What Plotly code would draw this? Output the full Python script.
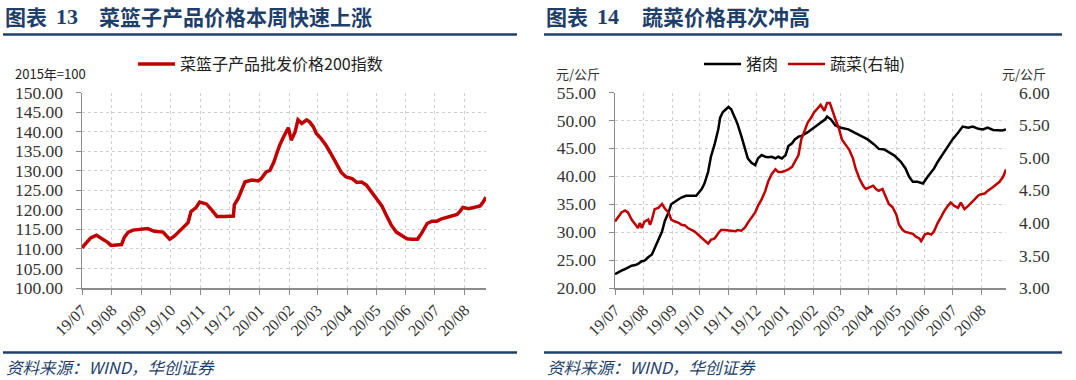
import plotly.graph_objects as go

# ---------------- data ----------------
basket_dates = [
    "2019-07-01", "2019-07-07", "2019-07-10", "2019-07-16", "2019-07-21", "2019-07-28", "2019-07-31",
    "2019-08-07", "2019-08-11", "2019-08-14", "2019-08-18", "2019-08-23", "2019-08-31",
    "2019-09-07", "2019-09-14", "2019-09-23", "2019-09-26", "2019-09-30",
    "2019-10-05", "2019-10-12", "2019-10-19", "2019-10-22", "2019-10-27", "2019-10-31",
    "2019-11-07", "2019-11-12", "2019-11-18", "2019-11-26",
    "2019-12-05", "2019-12-06", "2019-12-10", "2019-12-13", "2019-12-17", "2019-12-24", "2019-12-31",
    "2020-01-03", "2020-01-08", "2020-01-12", "2020-01-16", "2020-01-19", "2020-01-22", "2020-01-27", "2020-01-31",
    "2020-02-03", "2020-02-07", "2020-02-10", "2020-02-14", "2020-02-19", "2020-02-22", "2020-02-26", "2020-02-29",
    "2020-03-05", "2020-03-10", "2020-03-16", "2020-03-21", "2020-03-26", "2020-03-31",
    "2020-04-06", "2020-04-11", "2020-04-16", "2020-04-21", "2020-04-26",
    "2020-05-02", "2020-05-07", "2020-05-12", "2020-05-17", "2020-05-22", "2020-05-28",
    "2020-06-02", "2020-06-07", "2020-06-13", "2020-06-17", "2020-06-23", "2020-06-28",
    "2020-07-03", "2020-07-08", "2020-07-13", "2020-07-18", "2020-07-24", "2020-07-27", "2020-07-30",
    "2020-08-05", "2020-08-10", "2020-08-17", "2020-08-20", "2020-08-23",
]
basket_vals = [
    110.3, 111.8, 112.8, 113.5, 112.8, 111.6, 110.9,
    111.1, 111.1, 113.0, 114.3, 114.8, 115.0,
    115.2, 114.5, 114.3, 113.5, 112.5,
    113.3, 115.0, 116.7, 119.5, 120.5, 122.0,
    121.5, 120.1, 118.3, 118.3,
    118.4, 121.3, 122.9, 124.7, 127.1, 127.6, 127.4,
    128.0, 129.7, 130.1, 132.2, 134.4, 136.5, 139.1, 141.0,
    137.8, 139.9, 143.0, 142.1, 143.0, 142.5, 141.2, 139.5,
    138.2, 136.5, 134.0, 131.6, 129.5, 128.4,
    128.0, 127.0, 127.1, 126.3, 124.7,
    122.9, 121.0, 118.4, 116.0, 114.3, 113.3,
    112.6, 112.5, 112.5, 113.9, 116.5, 117.1,
    117.1, 117.7, 118.1, 118.4, 118.8, 119.6, 120.6,
    120.3, 120.5, 121.0, 122.0, 123.2,
]

pork_dates = [
    "2019-07-01", "2019-07-05", "2019-07-08", "2019-07-12", "2019-07-15", "2019-07-19", "2019-07-23", "2019-07-26", "2019-07-30",
    "2019-08-02", "2019-08-06", "2019-08-10", "2019-08-13", "2019-08-17", "2019-08-21", "2019-08-24", "2019-08-28", "2019-08-31",
    "2019-09-04", "2019-09-08", "2019-09-11", "2019-09-16", "2019-09-22", "2019-09-27",
    "2019-10-03", "2019-10-06", "2019-10-10", "2019-10-13", "2019-10-17", "2019-10-21", "2019-10-23", "2019-10-26",
    "2019-11-01", "2019-11-04", "2019-11-08", "2019-11-11", "2019-11-15", "2019-11-19", "2019-11-22", "2019-11-26", "2019-11-30",
    "2019-12-03", "2019-12-07", "2019-12-11", "2019-12-14", "2019-12-18", "2019-12-22", "2019-12-25", "2019-12-29",
    "2020-01-02", "2020-01-05", "2020-01-09", "2020-01-12", "2020-01-16", "2020-01-19", "2020-01-26",
    "2020-02-02", "2020-02-09", "2020-02-14", "2020-02-16", "2020-02-20", "2020-02-25",
    "2020-03-02", "2020-03-10", "2020-03-17", "2020-03-24", "2020-03-31",
    "2020-04-07", "2020-04-12", "2020-04-18", "2020-04-23", "2020-04-29",
    "2020-05-06", "2020-05-11", "2020-05-15", "2020-05-19", "2020-05-24", "2020-05-30",
    "2020-06-04", "2020-06-08", "2020-06-11", "2020-06-15", "2020-06-21", "2020-06-26",
    "2020-07-01", "2020-07-07", "2020-07-12", "2020-07-18", "2020-07-23", "2020-07-29",
    "2020-08-03", "2020-08-08", "2020-08-14", "2020-08-24", "2020-08-28",
]
pork_vals = [
    22.5, 22.9, 23.1, 23.4, 23.7, 24.0, 24.1, 24.3, 24.8,
    24.9, 25.5, 26.0, 27.1, 28.6, 30.1, 32.0, 33.5, 35.0,
    35.5, 35.9, 36.2, 36.5, 36.5, 36.5,
    37.7, 38.7, 40.8, 43.5, 45.7, 48.4, 50.5, 51.5,
    52.4, 52.0, 50.5, 49.3, 47.2, 44.8, 43.2, 42.4, 42.0,
    43.2, 43.8, 43.5, 43.4, 43.5, 43.2, 43.5, 43.2,
    43.8, 45.4, 45.9, 46.6, 47.1, 47.2, 47.9,
    48.7, 49.5, 50.2, 50.7, 50.2, 49.1,
    48.7, 48.4, 47.8, 47.3, 46.6,
    45.7, 44.9, 44.8, 44.3, 43.7,
    42.6, 41.4, 39.9, 39.0, 39.0, 38.7,
    39.9, 40.8, 41.4, 42.6, 44.1, 45.4,
    46.6, 47.8, 48.9, 48.7, 48.9, 48.5,
    48.4, 48.7, 48.3, 48.2, 48.4,
]

veg_dates = [
    "2019-07-01", "2019-07-05", "2019-07-08", "2019-07-12", "2019-07-15", "2019-07-19", "2019-07-23", "2019-07-26",
    "2019-07-28", "2019-07-30", "2019-08-02", "2019-08-06", "2019-08-08", "2019-08-10", "2019-08-13", "2019-08-17",
    "2019-08-21", "2019-08-24", "2019-08-28", "2019-08-31", "2019-09-04", "2019-09-08", "2019-09-11", "2019-09-15",
    "2019-09-18", "2019-09-22", "2019-09-25", "2019-09-29", "2019-10-03", "2019-10-06", "2019-10-10", "2019-10-13",
    "2019-10-17", "2019-10-21", "2019-10-24", "2019-10-28", "2019-11-01", "2019-11-04", "2019-11-08", "2019-11-11",
    "2019-11-15", "2019-11-19", "2019-11-22", "2019-11-26", "2019-11-30", "2019-12-03", "2019-12-07", "2019-12-11",
    "2019-12-14", "2019-12-18", "2019-12-22", "2019-12-25", "2019-12-29", "2020-01-02", "2020-01-05", "2020-01-09",
    "2020-01-12", "2020-01-16", "2020-01-19", "2020-01-23", "2020-01-26", "2020-01-30",
    "2020-02-02", "2020-02-06", "2020-02-09", "2020-02-13", "2020-02-16", "2020-02-19", "2020-02-21", "2020-02-25", "2020-02-29",
    "2020-03-03", "2020-03-07", "2020-03-11", "2020-03-15", "2020-03-18", "2020-03-22", "2020-03-26", "2020-03-29",
    "2020-04-02", "2020-04-06", "2020-04-09", "2020-04-12", "2020-04-16", "2020-04-20", "2020-04-23", "2020-04-27",
    "2020-05-01", "2020-05-04", "2020-05-08", "2020-05-11", "2020-05-15", "2020-05-19", "2020-05-22", "2020-05-26", "2020-05-28",
    "2020-06-01", "2020-06-04", "2020-06-08", "2020-06-11", "2020-06-15", "2020-06-19", "2020-06-22", "2020-06-26", "2020-06-29",
    "2020-07-03", "2020-07-07", "2020-07-10", "2020-07-14", "2020-07-18", "2020-07-21", "2020-07-25", "2020-07-29",
    "2020-08-01", "2020-08-05", "2020-08-08", "2020-08-14", "2020-08-21", "2020-08-25", "2020-08-28",
]
veg_vals = [
    4.02, 4.10, 4.16, 4.19, 4.16, 4.05, 3.97, 3.92,
    4.00, 3.92, 4.02, 4.05, 3.97, 4.05, 4.21, 4.23,
    4.29, 4.22, 4.16, 4.05, 4.02, 4.00, 3.97, 3.96,
    3.92, 3.89, 3.87, 3.82, 3.77, 3.74, 3.68, 3.74,
    3.76, 3.84, 3.89, 3.89, 3.89, 3.88, 3.87, 3.89,
    3.88, 3.93, 4.00, 4.08, 4.16, 4.26, 4.36, 4.49,
    4.63, 4.75, 4.82, 4.78, 4.78, 4.80, 4.82, 4.86,
    4.94, 5.04, 5.28, 5.44, 5.54, 5.62,
    5.70, 5.76, 5.81, 5.72, 5.84, 5.84, 5.75, 5.59, 5.44,
    5.28, 5.20, 5.12, 4.99, 4.83, 4.68, 4.57, 4.52,
    4.55, 4.57, 4.52, 4.49, 4.52, 4.39, 4.29, 4.24,
    4.13, 3.97, 3.89, 3.86, 3.84, 3.83, 3.79, 3.76, 3.72,
    3.82, 3.84, 3.82, 3.87, 4.00, 4.10, 4.18, 4.26, 4.31,
    4.26, 4.23, 4.31, 4.21, 4.26, 4.31, 4.36, 4.42,
    4.44, 4.45, 4.49, 4.55, 4.63, 4.71, 4.82,
]

left_ticks_range = [100, 150]
pork_range = [20, 55]
veg_range = [3, 6]

# ---------------- figure ----------------
W, H = 1076, 380
NAVY = "#1F3F6B"
RED = "#C00000"
AXC = "#8C8C8C"
GRID = "#D0D0D0"

def px(x):
    return x / W

def py(y):
    return 1 - y / H

fig = go.Figure()
fig.add_trace(go.Scatter(x=basket_dates, y=basket_vals, mode="lines",
                         line=dict(color=RED, width=3.5),
                         name="菜篮子产品批发价格200指数", xaxis="x", yaxis="y", legend="legend"))
fig.add_trace(go.Scatter(x=pork_dates, y=pork_vals, mode="lines",
                         line=dict(color="#000000", width=2.5),
                         name="猪肉", xaxis="x2", yaxis="y2", legend="legend2"))
fig.add_trace(go.Scatter(x=veg_dates, y=veg_vals, mode="lines",
                         line=dict(color=RED, width=2.5),
                         name="蔬菜(右轴)", xaxis="x2", yaxis="y3", legend="legend2"))

tickfont = dict(family="Liberation Serif", size=17.5, color="#333333")
xtickfont = dict(family="Liberation Serif", size=16, color="#333333")
ydom = [py(288), py(92.5)]

xcommon = dict(type="date", dtick="M1", tickformat="%y/%m", tickangle=-45,
               showgrid=True, gridcolor=GRID, griddash="dot", gridwidth=1,
               showline=True, linecolor=AXC, linewidth=1.5,
               ticks="outside", ticklen=5, tickcolor=AXC, tickfont=xtickfont,
               zeroline=False, automargin=False)
ycommon = dict(showgrid=True, gridcolor=GRID, griddash="dot", gridwidth=1,
               showline=True, linecolor=AXC, linewidth=1.5,
               ticks="outside", ticklen=5, tickcolor=AXC, tickfont=tickfont,
               tickformat=".2f", zeroline=False, ticklabelstandoff=9, automargin=False)

legfont = dict(family="Noto Sans CJK SC", size=16, color="#222222")

fig.update_layout(
    width=W, height=H, margin=dict(l=0, r=0, t=0, b=0, autoexpand=False),
    paper_bgcolor="white", plot_bgcolor="white",
    xaxis=dict(domain=[px(82), px(486)], range=["2019-07-01", "2020-08-23"],
               tick0="2019-07-01", anchor="y", **xcommon),
    yaxis=dict(domain=ydom, range=left_ticks_range, dtick=5, anchor="x", **ycommon),
    xaxis2=dict(domain=[px(615), px(1006)], range=["2019-07-01", "2020-08-28"],
                tick0="2019-07-01", anchor="y2", **xcommon),
    yaxis2=dict(domain=ydom, range=pork_range, dtick=5, anchor="x2", **ycommon),
    yaxis3=dict(overlaying="y2", side="right", anchor="x2", range=veg_range, dtick=0.5,
                showgrid=False, showline=False, ticks="", tickformat=".2f",
                tickfont=tickfont, zeroline=False, ticklabelstandoff=12, automargin=False),
    legend=dict(x=px(133), y=py(47), xanchor="left", yanchor="top", orientation="h",
                font=legfont, bgcolor="rgba(0,0,0,0)", itemwidth=37),
    legend2=dict(x=px(699), y=py(47), xanchor="left", yanchor="top", orientation="h",
                 font=legfont, bgcolor="rgba(0,0,0,0)", itemwidth=37),
    showlegend=True,
)

ann = []
title_font = dict(family="Noto Sans CJK SC", size=21, color=NAVY)
num_font = dict(family="Liberation Serif", size=22, color=NAVY)
def add_text(x, y, text, font, xanchor="left"):
    ann.append(dict(x=px(x), y=py(y), xref="paper", yref="paper", text=text,
                    showarrow=False, xanchor=xanchor, yanchor="middle", font=font))

add_text(3, 16, "<b>图表</b>", title_font)
add_text(54, 16, "<b>13</b>", num_font)
add_text(97, 16, "<b>菜篮子产品价格本周快速上涨</b>", title_font)
add_text(544, 16, "<b>图表</b>", title_font)
add_text(595, 16, "<b>14</b>", num_font)
add_text(640, 16, "<b>蔬菜价格再次冲高</b>", title_font)

add_text(13, 74, "2015年=100", dict(family="Noto Sans CJK SC", size=13, color="#222222"))
add_text(554, 74, "元/公斤", dict(family="Noto Sans CJK SC", size=13, color="#333333"))
add_text(1000, 74, "元/公斤", dict(family="Noto Sans CJK SC", size=13, color="#333333"))

foot_font = dict(family="Noto Sans CJK SC, Liberation Serif", size=16.5, color=NAVY)
add_text(4, 367, "<i>资料来源：WIND，华创证券</i>", foot_font)
add_text(545, 367, "<i>资料来源：WIND，华创证券</i>", foot_font)

shapes = []
for (x0, x1) in [(3, 517), (544, 1062)]:
    for yy in (34.5, 352.5):
        shapes.append(dict(type="line", xref="paper", yref="paper",
                           x0=px(x0), x1=px(x1), y0=py(yy), y1=py(yy),
                           line=dict(color=NAVY, width=2.5)))

fig.update_layout(annotations=ann, shapes=shapes)
fig.write_html("out.html", config={"displayModeBar": False, "staticPlot": True},
               post_script="document.body.style.margin='0px';document.body.style.overflow='hidden';")
